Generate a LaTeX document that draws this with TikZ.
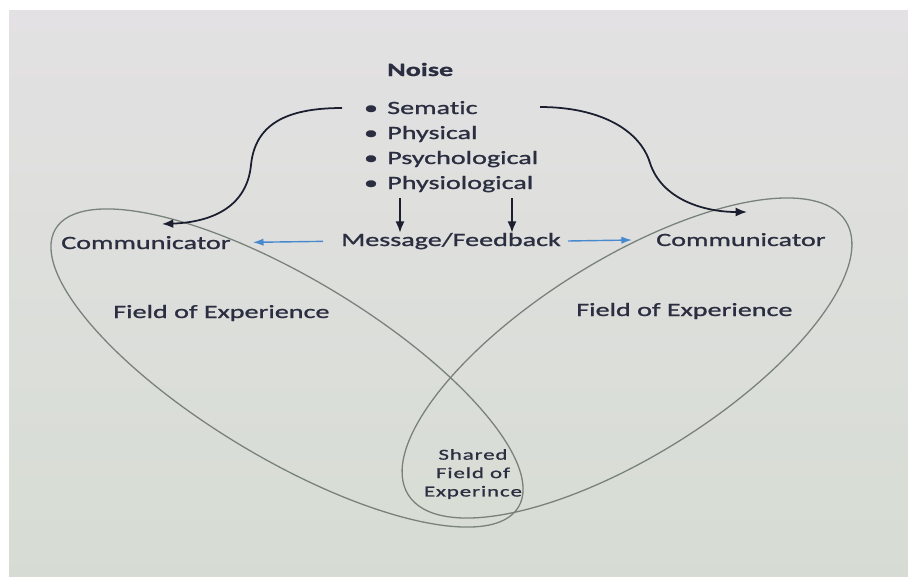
\documentclass[tikz,border=0pt]{standalone}
\usepackage{fontspec}
\setmainfont[FakeStretch=1.5,FakeBold=1.2,Ligatures=NoCommon]{Carlito}
\newfontfamily\sharedfont[FakeStretch=1.5,FakeBold=1,LetterSpace=6,Ligatures=NoCommon]{Carlito}
\usetikzlibrary{arrows.meta,calc}
\definecolor{ink}{RGB}{42,46,64}
\definecolor{noiseink}{RGB}{26,30,46}
\definecolor{rim}{RGB}{120,130,122}
\definecolor{msgblue}{RGB}{72,136,206}
\definecolor{paperTop}{RGB}{227,225,227}
\definecolor{paperBot}{RGB}{214,220,211}
\begin{document}
\begin{tikzpicture}[x=0.03cm,y=-0.03cm,
  txt/.style={inner sep=0pt,text=ink,font=\fontsize{16}{19}\selectfont},
  sharedtxt/.style={inner sep=0pt,text=ink,align=center,
    font=\fontsize{13}{15.7}\selectfont\sharedfont},
  fieldrim/.style={draw=rim,line width=1.1pt},
  noisearrow/.style={draw=noiseink,line width=1.5pt,
    -{Latex[length=3.4mm,width=2.7mm]}},
  msgarrow/.style={draw=msgblue,line width=1.2pt,
    -{Latex[length=3.2mm,width=2.2mm]}}]

% page and paper
\useasboundingbox (0,0) rectangle (908,576);
\fill[white] (-5,-5) rectangle (915,585);
\shade[top color=paperTop,bottom color=paperBot] (9,10) rectangle (915,585);

% the two fields of experience
\draw[fieldrim,rotate around={-31:(287,368)}] (287,368) ellipse [x radius=8.1cm,y radius=2.7cm];
\draw[fieldrim,rotate around={32:(627,358)}] (627,358) ellipse [x radius=7.74cm,y radius=2.94cm];

% noise heading and list
\node[txt,anchor=base west,font=\fontsize{16}{19}\selectfont\bfseries] (noise) at (387,76) {Noise};
\node[txt,anchor=base] (b1) at (371,114) {•};
\node[txt,anchor=base] (b2) at (371,139) {•};
\node[txt,anchor=base] (b3) at (371,164) {•};
\node[txt,anchor=base] (b4) at (371,189) {•};
\node[txt,anchor=base west] (n1) at (387,114) {Sematic};
\node[txt,anchor=base west] (n2) at (387,139) {Physical};
\node[txt,anchor=base west] (n3) at (387,164) {Psychological};
\node[txt,anchor=base west] (n4) at (387,189) {Physiological};

% message and the two communicators
\node[txt,anchor=base west] (msg) at (341,246) {Message/Feedback};
\node[txt,anchor=base west] (comL) at (61,249) {Communicator};
\node[txt,anchor=base west] (comR) at (656,246) {Communicator};

% field labels
\node[txt,anchor=base west] (fieldL) at (113,318) {Field of Experience};
\node[txt,anchor=base west] (fieldR) at (576,316) {Field of Experience};
\node[sharedtxt] (shared) at (473,474) {Shared\\Field of\\Experince};

% noise reaching each communicator
\coordinate (noiseL) at (342,108);
\coordinate (noiseR) at (540,107);
\coordinate (hitL) at (162,224);
\coordinate (hitR) at (747,212);
\draw[noisearrow] (noiseL) .. controls (285,108) and (255,125) .. (251,165)
  .. controls (247,205) and (215,222) .. (hitL);
\draw[noisearrow] (noiseR) .. controls (600,107) and (640,130) .. (650,163)
  .. controls (662,200) and (705,212) .. (hitR);

% noise acting on the message
\coordinate (dropA) at (400,198);
\coordinate (dropB) at (512,198);
\draw[noisearrow] (dropA) -- (dropA |- msg.north);
\draw[noisearrow] (dropB) -- (dropB |- msg.north);

% message and feedback flow
\draw[msgarrow,shorten <=0.54cm,shorten >=0.66cm] (msg.west) -- (comL.east);
\draw[msgarrow,shorten <=0.21cm,shorten >=0.72cm] (msg.east) -- (comR.west);
\end{tikzpicture}
\end{document}
